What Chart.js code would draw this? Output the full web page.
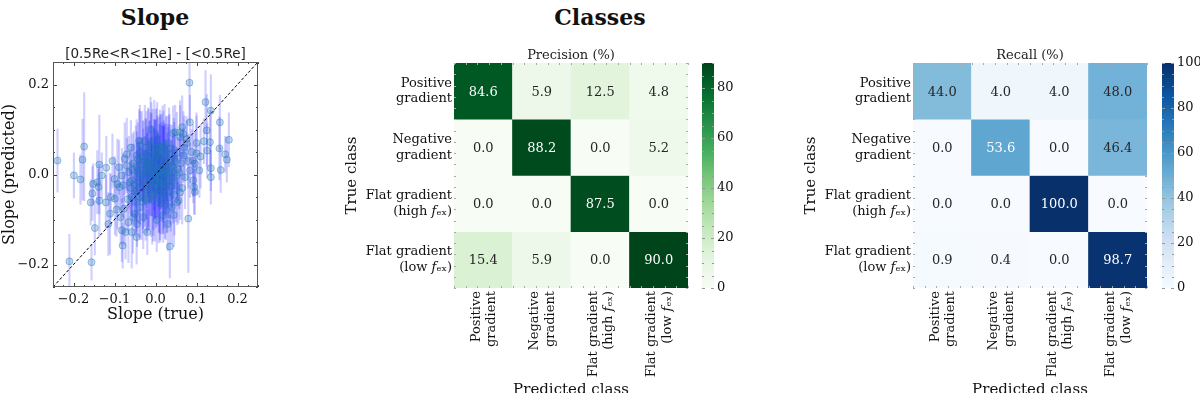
<!DOCTYPE html>
<html lang="en">
<head>
  <meta charset="UTF-8" />
  <title>Slope and class predictions</title>
  <script src="https://cdn.jsdelivr.net/npm/chart.js"></script>
  <style>
    body {
      margin: 0;
      width: 1200px;
      height: 393px;
      overflow: hidden;
      position: relative;
      background: #fff;
      font-family: 'DejaVu Serif', serif;
    }
    canvas { position: absolute; top: 0; }
    .suptitle {
      position: absolute;
      top: 4px;
      font-size: 22px;
      font-weight: bold;
      color: #111;
      transform: translateX(-50%);
    }
  </style>
</head>
<body>
  <div class="suptitle" style="left:155px">Slope</div>
  <div class="suptitle" style="left:600px">Classes</div>

  <canvas id="slope" width="280" height="393" style="left:0"></canvas>
  <canvas id="precision" width="360" height="400" style="left:340px"></canvas>
  <canvas id="precisionBar" width="60" height="393" style="left:702px"></canvas>
  <canvas id="recall" width="360" height="400" style="left:799px"></canvas>
  <canvas id="recallBar" width="48" height="393" style="left:1162px"></canvas>

  <script>
    // ---- slope panel: true vs predicted, with 1-sigma errors
    const slopeTrue = [
      -0.239, -0.210, -0.199, -0.183, -0.178, -0.174, -0.156, -0.158, -0.154, -0.152,
      -0.148, -0.142, -0.139, -0.137, -0.137, -0.131, -0.121, -0.115, -0.111, -0.109,
      -0.099, -0.095, -0.093, -0.089, -0.088, -0.082, -0.080, -0.077, -0.073, -0.066,
      -0.062, -0.058, -0.058, -0.050, -0.046, -0.046, -0.038, -0.026, -0.020, -0.021,
      0.003, 0.011, 0.019, 0.027, 0.035, 0.040, 0.048, 0.053, 0.060, 0.068,
      0.080, 0.083, 0.084, 0.076, 0.091, 0.094, 0.096, 0.100, 0.107, 0.118,
      0.122, 0.125, 0.126, 0.133, 0.135, 0.135, 0.135, 0.157, 0.156, 0.159,
      0.170, 0.174, 0.179,
      0.043, 0.060, 0.076, -0.046, -0.070, -0.001, 0.019, 0.068, 0.088, 0.096,
      0.084, 0.043, 0.052, 0.072, 0.092, -0.082, -0.079, -0.058, -0.038, -0.021,
      -0.013, -0.038, -0.005, 0.019, 0.035, 0.056, 0.011, -0.050, -0.018, 0.007,
      0.027, -0.001, -0.030,
      -0.032, -0.027, -0.024, -0.019, -0.016, -0.012, -0.010, -0.008, -0.006, -0.004,
      -0.002, 0.000, 0.002, 0.004, 0.006, 0.008, 0.010, 0.012, 0.014, 0.016,
      0.018, 0.020, 0.022, 0.024, 0.026, 0.028, 0.030, 0.033, 0.036, 0.039,
      -0.028, -0.035, -0.041, -0.044, -0.022, -0.015, 0.005, 0.015, 0.045, 0.048,
      0.050, 0.055, 0.062, 0.065, -0.053, -0.060, -0.065, -0.030, 0.000, -0.010,
      0.032, 0.040, -0.048, 0.025,
      -0.120, -0.105, -0.075, -0.100, -0.068, -0.085, -0.055, -0.045, -0.030, 0.030,
      0.045, 0.060, 0.070, 0.080, 0.110, 0.100, 0.065, -0.010, -0.040, -0.060,
      -0.048, -0.045, -0.043, -0.040, -0.037, -0.034, -0.031, -0.029, -0.026, -0.023,
      -0.021, -0.018, -0.016, -0.013, -0.011, -0.009, -0.007, -0.005, -0.003, -0.001,
      0.001, 0.003, 0.005, 0.007, 0.009, 0.011, 0.013, 0.015, 0.017, 0.019,
      0.021, 0.023, 0.025, 0.027, 0.029, 0.031, 0.034, 0.037, 0.040, 0.043,
      -0.052, -0.056, -0.038, -0.012, 0.008, 0.022, 0.046, 0.052, 0.058, -0.024,
      -0.003, 0.012, -0.017, 0.020, -0.008, 0.004, 0.033, -0.033, 0.046, -0.070
    ];
    const slopePred = [
      0.031, -0.193, -0.002, -0.011, 0.033, 0.062, -0.195, -0.062, -0.042, -0.021,
      -0.119, -0.017, -0.028, 0.022, -0.058, -0.002, -0.062, -0.110, -0.087, -0.050,
      -0.054, -0.078, -0.021, 0.016, -0.028, -0.124, -0.158, -0.076, -0.128, -0.106,
      -0.017, -0.050, -0.128, -0.087, -0.139, -0.036, -0.073, 0.074, -0.128, 0.031,
      -0.101, 0.053, -0.091, -0.080, -0.160, -0.073, 0.094, -0.062, 0.094, 0.090,
      -0.098, 0.204, 0.116, 0.079, 0.031, -0.028, -0.039, 0.047, 0.009, 0.074,
      0.161, 0.098, 0.053, 0.072, 0.014, -0.006, 0.142, 0.116, 0.058, 0.010,
      0.045, 0.033, 0.077,
      0.092, 0.083, 0.070, 0.042, 0.020, 0.050, 0.061, 0.042, 0.050, 0.024,
      0.009, 0.016, -0.002, -0.006, -0.013, -0.002, -0.024, -0.013, 0.002, 0.016,
      -0.021, -0.050, -0.043, -0.036, -0.050, -0.058, -0.065, -0.039, 0.024, 0.009,
      0.002, -0.006, 0.031,
      0.010, -0.008, 0.045, -0.035, 0.005, 0.038, -0.012, 0.020, -0.058, 0.032,
      0.012, -0.020, 0.040, -0.004, 0.026, -0.030, 0.004, 0.060, -0.016, 0.018,
      -0.050, 0.036, 0.008, -0.022, 0.048, -0.006, 0.022, -0.038, 0.030, -0.014,
      -0.025, 0.022, -0.018, 0.008, 0.060, -0.052, 0.070, 0.044, 0.055, 0.030,
      -0.025, 0.012, 0.025, -0.030, 0.025, -0.030, 0.005, -0.060, 0.085, 0.065,
      0.070, 0.005, -0.060, -0.065,
      0.015, 0.030, 0.035, -0.010, -0.055, -0.095, -0.095, -0.110, -0.095, -0.110,
      -0.090, -0.040, 0.060, 0.030, 0.040, 0.070, 0.105, 0.100, 0.075, 0.060,
      0.018, -0.005, 0.035, -0.028, 0.050, -0.045, 0.000, 0.028, -0.015, 0.012,
      -0.040, 0.048, -0.002, 0.030, -0.028, 0.008, 0.055, -0.016, 0.022, -0.038,
      0.002, 0.046, -0.024, 0.016, -0.008, 0.034, -0.042, 0.006, 0.052, -0.012,
      0.024, -0.032, 0.012, 0.040, -0.018, 0.004, 0.044, -0.026, 0.020, -0.008,
      -0.022, 0.010, 0.064, 0.072, -0.052, 0.066, 0.036, 0.048, 0.004, -0.056,
      0.035, -0.020, 0.015, 0.000, -0.045, 0.060, 0.058, 0.040, -0.045, 0.045
    ];
    const slopeErr = [
      0.070, 0.060, 0.050, 0.055, 0.090, 0.120, 0.040, 0.050, 0.060, 0.045,
      0.060, 0.070, 0.040, 0.110, 0.080, 0.050, 0.060, 0.070, 0.090, 0.050,
      0.080, 0.060, 0.100, 0.060, 0.050, 0.070, 0.050, 0.080, 0.060, 0.090,
      0.070, 0.060, 0.080, 0.050, 0.060, 0.090, 0.070, 0.080, 0.050, 0.060,
      0.070, 0.090, 0.060, 0.050, 0.070, 0.080, 0.060, 0.050, 0.070, 0.050,
      0.120, 0.090, 0.060, 0.050, 0.080, 0.060, 0.050, 0.090, 0.060, 0.050,
      0.070, 0.080, 0.060, 0.070, 0.050, 0.060, 0.080, 0.060, 0.070, 0.050,
      0.040, 0.050, 0.060,
      0.060, 0.070, 0.050, 0.080, 0.060, 0.070, 0.080, 0.060, 0.050, 0.070,
      0.060, 0.050, 0.060, 0.070, 0.050, 0.060, 0.070, 0.080, 0.060, 0.090,
      0.070, 0.060, 0.080, 0.070, 0.060, 0.050, 0.080, 0.060, 0.070, 0.080,
      0.060, 0.090, 0.070,
      0.070, 0.060, 0.080, 0.090, 0.070, 0.100, 0.080, 0.060, 0.090, 0.070,
      0.110, 0.080, 0.060, 0.090, 0.070, 0.100, 0.080, 0.070, 0.060, 0.090,
      0.080, 0.070, 0.100, 0.060, 0.080, 0.070, 0.090, 0.060, 0.080, 0.070,
      0.080, 0.060, 0.090, 0.070, 0.080, 0.070, 0.060, 0.090, 0.070, 0.060,
      0.080, 0.070, 0.060, 0.080, 0.070, 0.060, 0.080, 0.070, 0.060, 0.070,
      0.060, 0.080, 0.070, 0.080,
      0.070, 0.060, 0.080, 0.050, 0.070, 0.060, 0.080, 0.050, 0.070, 0.060,
      0.070, 0.060, 0.070, 0.060, 0.070, 0.060, 0.070, 0.060, 0.070, 0.060,
      0.090, 0.100, 0.080, 0.110, 0.090, 0.100, 0.120, 0.090, 0.100, 0.110,
      0.090, 0.100, 0.120, 0.090, 0.110, 0.100, 0.090, 0.120, 0.100, 0.110,
      0.120, 0.100, 0.090, 0.110, 0.120, 0.100, 0.090, 0.110, 0.100, 0.120,
      0.090, 0.110, 0.100, 0.090, 0.110, 0.100, 0.090, 0.100, 0.090, 0.100,
      0.090, 0.080, 0.090, 0.100, 0.100, 0.090, 0.080, 0.090, 0.080, 0.090,
      0.130, 0.130, 0.130, 0.120, 0.110, 0.100, 0.090, 0.100, 0.090, 0.080
    ];
    const slopeXTicks = [-0.2, -0.1, 0.0, 0.1, 0.2];
    const slopeYTicks = [-0.2, 0.0, 0.2];

    // ---- classes panel
    const classLabels = [
      ['Positive', 'gradient'],
      ['Negative', 'gradient'],
      ['Flat gradient', '(high 𝑓ₑₓ)'],
      ['Flat gradient', '(low 𝑓ₑₓ)']
    ];
    const precisionRows = [
      [84.6, 5.9, 12.5, 4.8],
      [0.0, 88.2, 0.0, 5.2],
      [0.0, 0.0, 87.5, 0.0],
      [15.4, 5.9, 0.0, 90.0]
    ];
    const recallRows = [
      [44.0, 4.0, 4.0, 48.0],
      [0.0, 53.6, 0.0, 46.4],
      [0.0, 0.0, 100.0, 0.0],
      [0.9, 0.4, 0.0, 98.7]
    ];
    const colorbarTicks = [0, 20, 40, 60, 80, 100];

    const greens = ['#f7fcf5', '#e5f5e0', '#c7e9c0', '#a1d99b', '#74c476', '#41ab5d', '#238b45', '#006d2c', '#00441b'];
    const blues = ['#f7fbff', '#deebf7', '#c6dbef', '#9ecae1', '#6baed6', '#4292c6', '#2171b5', '#08519c', '#08306b'];

    const SERIF = "'DejaVu Serif', serif";

    function hexRgb(h) {
      return [1, 3, 5].map(i => parseInt(h.slice(i, i + 2), 16));
    }
    function cmap(stops, t) {
      t = Math.max(0, Math.min(1, t));
      const p = t * (stops.length - 1);
      const i = Math.min(Math.floor(p), stops.length - 2);
      const f = p - i;
      const a = hexRgb(stops[i]), b = hexRgb(stops[i + 1]);
      return a.map((v, k) => Math.round(v + (b[k] - v) * f));
    }
    function rgbStr(c) { return `rgb(${c[0]},${c[1]},${c[2]})`; }
    function luminance(c) {
      const l = c.map(v => {
        v /= 255;
        return v <= 0.03928 ? v / 12.92 : Math.pow((v + 0.055) / 1.055, 2.4);
      });
      return 0.2126 * l[0] + 0.7152 * l[1] + 0.0722 * l[2];
    }
    function fmt(v) {
      return (v < 0 ? '\u2212' : '') + Math.abs(v).toFixed(1);
    }

    // small inward ticks drawn along the plot edges
    const edgeTicks = {
      id: 'edgeTicks',
      afterDraw(chart, args, opts) {
        const { ctx, chartArea: a, scales } = chart;
        const xs = scales[opts.xScale], ys = scales[opts.yScale];
        ctx.save();
        ctx.strokeStyle = opts.color;
        ctx.lineWidth = 1;
        ctx.beginPath();
        (opts.x || []).forEach(([v, len]) => {
          const px = Math.round(xs.getPixelForValue(v)) + 0.5;
          if (opts.sides.includes('b')) { ctx.moveTo(px, a.bottom); ctx.lineTo(px, a.bottom - len); }
          if (opts.sides.includes('t')) { ctx.moveTo(px, a.top); ctx.lineTo(px, a.top + len); }
        });
        (opts.y || []).forEach(([v, len]) => {
          const py = Math.round(ys.getPixelForValue(v)) + 0.5;
          if (opts.sides.includes('l')) { ctx.moveTo(a.left, py); ctx.lineTo(a.left + len, py); }
          if (opts.sides.includes('r')) { ctx.moveTo(a.right, py); ctx.lineTo(a.right - len, py); }
        });
        ctx.stroke();
        if (opts.frame) {
          ctx.strokeStyle = opts.frame;
          ctx.strokeRect(a.left + 0.5, a.top + 0.5, a.right - a.left - 1, a.bottom - a.top - 1);
        }
        ctx.restore();
      }
    };

    // top axis only used to hold a panel title centred on the plot area
    function titleAxis(type, text, height, padTop, extra) {
      return Object.assign({
        type,
        position: 'top',
        grid: { display: false, drawTicks: false },
        border: { display: false },
        ticks: { display: false },
        afterFit: s => { s.height = height; },
        title: { display: true, text, color: '#222', padding: { top: padTop, bottom: 0 } }
      }, extra);
    }

    // ---- slope chart
    const slopePoints = slopeTrue.map((x, i) => ({ x, y: slopePred[i] }));
    const slopeBars = slopeTrue.map((x, i) => ({ x, y: [slopePred[i] - slopeErr[i], slopePred[i] + slopeErr[i]] }));

    const slopeMinorX = [], slopeMinorY = [];
    for (let v = -0.25; v <= 0.2501; v += 0.025) slopeMinorX.push([+v.toFixed(3), 2]);
    for (let v = -0.25; v <= 0.2501; v += 0.05) slopeMinorY.push([+v.toFixed(3), 2]);

    const slopeTop = titleAxis('linear', '[0.5Re<R<1Re] - [<0.5Re]', 62, 46.5, { min: -0.25, max: 0.25 });
    slopeTop.title.font = { family: "'DejaVu Sans', sans-serif", size: 13.5 };

    new Chart(document.getElementById('slope'), {
      type: 'scatter',
      data: {
        datasets: [
          {
            type: 'line',
            data: [{ x: -0.25, y: -0.25 }, { x: 0.25, y: 0.25 }],
            borderColor: '#000',
            borderWidth: 1,
            borderDash: [3, 2],
            pointRadius: 0,
            order: 0
          },
          {
            data: slopePoints,
            pointRadius: 3.5,
            backgroundColor: 'rgba(31,119,180,0.28)',
            borderColor: 'rgba(31,119,180,0.4)',
            borderWidth: 1,
            order: 1
          },
          {
            type: 'bar',
            data: slopeBars,
            backgroundColor: 'rgba(20,20,255,0.2)',
            borderWidth: 0,
            barThickness: 1.5,
            order: 2
          }
        ]
      },
      options: {
        responsive: false,
        animation: false,
        layout: { padding: { right: 22 } },
        plugins: {
          legend: { display: false },
          tooltip: { enabled: false },
          edgeTicks: {
            xScale: 'x', yScale: 'y', color: '#444', sides: 'lrtb', frame: '#555',
            x: slopeMinorX.concat(slopeXTicks.map(v => [v, 4])),
            y: slopeMinorY.concat(slopeYTicks.map(v => [v, 4]))
          }
        },
        scales: {
          x: {
            type: 'linear',
            min: -0.25, max: 0.25,
            offset: false,
            grid: { display: false, drawTicks: false },
            border: { display: false },
            afterBuildTicks: s => { s.ticks = slopeXTicks.map(v => ({ value: v })); },
            afterFit: s => { s.height = 106; },
            ticks: { color: '#111', padding: 5, font: { family: SERIF, size: 13 }, callback: v => fmt(v) },
            title: {
              display: true, text: 'Slope (true)', color: '#111',
              font: { family: SERIF, size: 16 }, padding: { top: 0, bottom: 69 }
            }
          },
          xTop: slopeTop,
          y: {
            type: 'linear',
            min: -0.25, max: 0.25,
            grid: { display: false, drawTicks: false },
            border: { display: false },
            afterBuildTicks: s => { s.ticks = slopeYTicks.map(v => ({ value: v })); },
            afterFit: s => { s.width = 53; },
            ticks: { color: '#111', padding: 4, font: { family: SERIF, size: 13 }, callback: v => fmt(v) },
            title: {
              display: true, text: 'Slope (predicted)', color: '#111',
              font: { family: SERIF, size: 16 }, padding: { top: 0 }
            }
          }
        }
      },
      plugins: [edgeTicks]
    });

    // ---- confusion matrices
    const cellText = {
      id: 'cellText',
      afterDatasetsDraw(chart, args, opts) {
        const { ctx, scales: { x, y } } = chart;
        ctx.save();
        ctx.font = `13px ${SERIF}`;
        ctx.textAlign = 'center';
        ctx.textBaseline = 'middle';
        opts.rows.forEach((row, r) => {
          row.forEach((v, c) => {
            const col = cmap(opts.stops, v / opts.vmax);
            ctx.fillStyle = luminance(col) > 0.37 ? '#262626' : '#ffffff';
            ctx.fillText(v.toFixed(1), x.getPixelForValue(c), y.getPixelForValue(r + 0.5) + 1);
          });
        });
        ctx.restore();
      }
    };

    const cellMinor = [];
    for (let v = 0; v <= 4.001; v += 0.2) cellMinor.push([+v.toFixed(2) - 0.5, 2]);
    const cellMinorY = [];
    for (let v = 0; v <= 4.001; v += 0.2) cellMinorY.push([+v.toFixed(2), 2]);

    function heatmap(id, title, rows, stops, vmax) {
      const top = titleAxis('category', title, 63, 47.5, { labels: classLabels });
      top.title.font = { family: SERIF, size: 13 };
      new Chart(document.getElementById(id), {
        type: 'bar',
        data: {
          labels: classLabels,
          datasets: rows.map((row, r) => ({
            data: row.map(() => [r, r + 1]),
            backgroundColor: row.map(v => rgbStr(cmap(stops, v / vmax))),
            borderWidth: 0,
            barPercentage: 1,
            categoryPercentage: 1,
            grouped: false
          }))
        },
        options: {
          responsive: false,
          animation: false,
          layout: { padding: { right: 12 } },
          plugins: {
            legend: { display: false },
            tooltip: { enabled: false },
            cellText: { rows, stops, vmax },
            edgeTicks: {
              xScale: 'x', yScale: 'y', color: '#aaa', sides: 'lrtb',
              x: cellMinor, y: cellMinorY
            }
          },
          scales: {
            x: {
              type: 'category',
              grid: { display: false, drawTicks: false },
              border: { display: false },
              afterFit: s => { s.height = 112; },
              ticks: {
                color: '#111', padding: 3, autoSkip: false,
                maxRotation: 90, minRotation: 90, labelOffset: -7,
                font: { family: SERIF, size: 13 }
              },
              title: {
                display: true, text: 'Predicted class', color: '#111',
                font: { family: SERIF, size: 15 }, padding: { top: 0, bottom: 1 }
              }
            },
            colTop: top,
            y: {
              type: 'linear', display: false, min: 0, max: 4, reverse: true
            },
            rowLab: {
              type: 'category',
              labels: classLabels,
              position: 'left',
              offset: true,
              grid: { display: false, drawTicks: false },
              border: { display: false },
              afterFit: s => { s.width = 114; },
              ticks: { color: '#111', padding: 2, font: { family: SERIF, size: 13 } },
              title: {
                display: true, text: 'True class', color: '#111',
                font: { family: SERIF, size: 15 }, padding: { top: 3 }
              }
            }
          }
        },
        plugins: [cellText, edgeTicks]
      });
    }

    function colorbar(id, stops, vmax, axisWidth) {
      const minor = [];
      for (let v = 0; v <= vmax; v += 5) minor.push([v, 2]);
      new Chart(document.getElementById(id), {
        type: 'bar',
        data: {
          labels: [''],
          datasets: [{
            data: [[0, vmax]],
            backgroundColor: ctx => {
              const a = ctx.chart.chartArea;
              if (!a) return stops[0];
              const g = ctx.chart.ctx.createLinearGradient(0, a.bottom, 0, a.top);
              for (let i = 0; i <= 20; i++) g.addColorStop(i / 20, rgbStr(cmap(stops, i / 20)));
              return g;
            },
            borderWidth: 0,
            barPercentage: 1,
            categoryPercentage: 1
          }]
        },
        options: {
          responsive: false,
          animation: false,
          layout: { padding: { top: 63, bottom: 105 } },
          plugins: {
            legend: { display: false },
            tooltip: { enabled: false },
            edgeTicks: {
              xScale: 'x', yScale: 'y', color: '#999', sides: 'lr',
              y: minor.concat(colorbarTicks.filter(v => v <= vmax).map(v => [v, 3]))
            }
          },
          scales: {
            x: { display: false },
            y: {
              position: 'right',
              min: 0, max: vmax,
              grid: { display: false, drawTicks: false },
              border: { display: false },
              afterBuildTicks: s => { s.ticks = colorbarTicks.filter(v => v <= vmax).map(v => ({ value: v })); },
              afterFit: s => { s.width = axisWidth; },
              ticks: { color: '#111', padding: 3, font: { family: SERIF, size: 13 } }
            }
          }
        },
        plugins: [edgeTicks]
      });
    }

    heatmap('precision', 'Precision (%)', precisionRows, greens, 90.0);
    colorbar('precisionBar', greens, 90.0, 48);
    heatmap('recall', 'Recall (%)', recallRows, blues, 100.0);
    colorbar('recallBar', blues, 100.0, 36);
  </script>
</body>
</html>
